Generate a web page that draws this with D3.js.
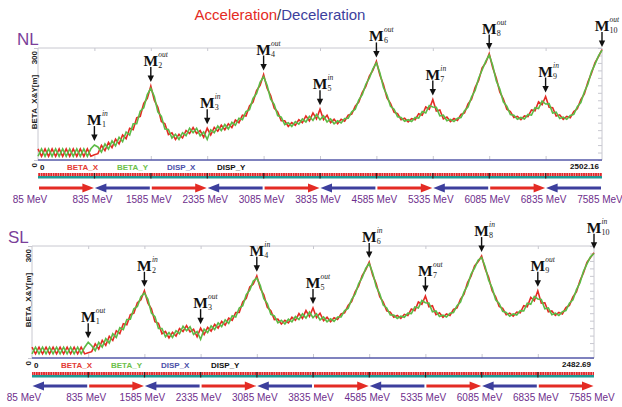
<!DOCTYPE html>
<html>
<head>
<meta charset="utf-8">
<script src="https://cdn.jsdelivr.net/npm/d3@7"></script>
<style>
    body { margin: 0; background: #fff; }
    svg { display: block; font-family: 'Liberation Sans', Arial, sans-serif; }
</style>
</head>
<body>
<div id="chart-area"></div>
<script>
// beta functions, one row per section (M_k to M_k+1), last row = end point
var nlBetaX = [
    [30, 10, 30, 10, 30, 10, 30, 10, 30, 10, 30, 10, 30, 10, 30, 10],
    [14, 17, 39, 25, 47, 33, 56, 43, 67, 57, 85, 81, 113, 117, 152, 165],
    [198, 160, 141, 103, 97, 68, 73, 55, 69, 59, 79, 71, 87, 71, 79, 61],
    [85, 67, 87, 77, 93, 81, 97, 87, 107, 100, 120, 118, 145, 155, 186, 200],
    [229, 192, 173, 139, 129, 105, 105, 90, 100, 93, 108, 100, 118, 105, 126, 110],
    [136, 108, 120, 100, 109, 97, 109, 104, 120, 123, 144, 155, 181, 197, 225, 240],
    [264, 227, 202, 166, 152, 128, 124, 108, 112, 102, 111, 108, 124, 120, 142, 136],
    [162, 131, 134, 110, 115, 103, 111, 106, 122, 126, 150, 163, 194, 213, 247, 260],
    [285, 247, 220, 182, 164, 136, 130, 114, 117, 108, 118, 116, 134, 132, 156, 148],
    [170, 141, 140, 118, 121, 109, 117, 113, 130, 137, 162, 177, 209, 232, 260, 277],
    [296]
];
var nlBetaY = [
    [10, 30, 10, 30, 10, 30, 10, 30, 10, 30, 10, 30, 10, 30, 10, 30],
    [40, 35, 21, 43, 29, 51, 38, 61, 49, 75, 67, 97, 97, 131, 140, 175],
    [192, 170, 129, 117, 83, 82, 59, 69, 55, 73, 65, 85, 73, 85, 65, 75],
    [55, 81, 73, 91, 79, 95, 83, 101, 93, 112, 108, 130, 135, 165, 178, 208],
    [223, 200, 163, 149, 119, 115, 95, 100, 90, 103, 96, 110, 102, 117, 106, 122],
    [108, 118, 102, 110, 97, 105, 99, 111, 112, 129, 136, 161, 175, 203, 219, 244],
    [260, 233, 194, 174, 144, 136, 116, 114, 104, 108, 103, 114, 112, 130, 126, 146],
    [142, 141, 118, 120, 105, 109, 103, 112, 114, 132, 142, 169, 186, 219, 241, 264],
    [281, 253, 212, 190, 156, 144, 122, 120, 109, 114, 110, 122, 120, 140, 138, 158],
    [150, 151, 126, 128, 111, 115, 109, 119, 122, 143, 154, 183, 203, 236, 256, 279],
    [294]
];
var slBetaX = [
    [29, 11, 29, 11, 29, 11, 29, 11, 29, 11, 29, 11, 29, 11, 29, 11],
    [14, 17, 38, 24, 47, 34, 58, 47, 73, 65, 92, 89, 116, 120, 148, 156],
    [180, 147, 132, 97, 93, 65, 71, 54, 69, 59, 79, 71, 87, 70, 77, 57],
    [80, 63, 82, 72, 90, 80, 98, 88, 107, 101, 122, 122, 150, 160, 190, 198],
    [220, 186, 169, 136, 127, 103, 104, 91, 101, 94, 109, 101, 119, 106, 127, 111],
    [134, 108, 120, 100, 109, 97, 108, 103, 118, 121, 141, 151, 177, 193, 221, 236],
    [257, 222, 199, 164, 150, 126, 123, 109, 114, 106, 117, 114, 131, 127, 150, 144],
    [166, 137, 140, 116, 121, 109, 118, 114, 130, 134, 158, 171, 202, 219, 247, 258],
    [273, 239, 216, 180, 164, 138, 133, 116, 120, 112, 123, 121, 140, 137, 162, 153],
    [180, 147, 148, 124, 126, 114, 122, 118, 135, 141, 164, 177, 207, 228, 256, 269],
    [282]
];
var slBetaY = [
    [11, 29, 11, 29, 11, 29, 11, 29, 11, 29, 11, 29, 11, 29, 11, 29],
    [42, 33, 20, 42, 29, 52, 40, 65, 55, 81, 76, 103, 104, 132, 138, 164],
    [174, 157, 120, 111, 79, 79, 57, 68, 55, 73, 65, 85, 73, 84, 63, 71],
    [50, 77, 68, 86, 76, 94, 84, 102, 93, 113, 110, 134, 140, 170, 182, 206],
    [214, 194, 159, 146, 117, 113, 94, 101, 91, 104, 97, 111, 103, 118, 107, 123],
    [108, 118, 102, 110, 97, 105, 98, 110, 110, 127, 133, 157, 171, 199, 215, 240],
    [253, 228, 191, 172, 142, 134, 115, 115, 106, 112, 109, 120, 119, 137, 134, 154],
    [148, 147, 124, 126, 111, 115, 110, 120, 122, 140, 150, 177, 194, 225, 241, 262],
    [269, 245, 208, 188, 156, 146, 125, 122, 112, 118, 115, 127, 126, 147, 144, 165],
    [158, 157, 132, 134, 116, 120, 114, 124, 127, 147, 156, 183, 201, 232, 252, 271],
    [280]
];

var energies = [85, 835, 1585, 2335, 3085, 3835, 4585, 5335, 6085, 6835, 7585];
var nlMarkers = ['in', 'out', 'in', 'out', 'in', 'out', 'in', 'out', 'in', 'out'];
var slMarkers = ['out', 'in', 'out', 'in', 'out', 'in', 'out', 'in', 'out', 'in'];
var nlDirections = ['acc', 'dec', 'acc', 'dec', 'acc', 'dec', 'acc', 'dec', 'acc', 'dec'];
var slDirections = ['dec', 'acc', 'dec', 'acc', 'dec', 'acc', 'dec', 'acc', 'dec', 'acc'];
var legendLabels = ['BETA_X', 'BETA_Y', 'DISP_X', 'DISP_Y'];
var nlLength = 2502.16;
var slLength = 2482.69;
var yTicks = [0, 300];

var colors = {
    red: '#e42b24', green: '#5cbb46', blue: '#3d3f9d', teal: '#1f9a94',
    purple: '#6e2e8c', name: '#7b3f9a', grid: '#c8c8d0'
};
var legendColors = ['#e33b34', '#6cc04a', '#4a4fa8', '#111'];

var width = 622, height = 407;

var svg = d3.select('#chart-area')
    .append('svg')
    .attr('width', width)
    .attr('height', height);

var pattern = svg.append('defs').append('pattern')
    .attr('id', 'hatch')
    .attr('patternUnits', 'userSpaceOnUse')
    .attr('width', 2.4)
    .attr('height', 10);
pattern.append('rect').attr('width', 2.4).attr('height', 10).attr('fill', '#f4b6b4');
pattern.append('rect').attr('width', 1.7).attr('height', 10).attr('fill', '#e2262a');

var title = svg.append('text')
    .attr('x', 280)
    .attr('y', 20)
    .attr('text-anchor', 'middle')
    .style('font-size', '15px');
title.append('tspan').attr('fill', colors.red).text('Acceleration');
title.append('tspan').attr('fill', '#333').text('/');
title.append('tspan').attr('fill', colors.blue).text('Deceleration');

var panels = [
    { name: 'NL', length: nlLength, betaX: nlBetaX, betaY: nlBetaY, markers: nlMarkers, dirs: nlDirections,
      left: 38, right: 602, top: 48, zero: 160, stripY: 173, arrowY: 188, labelY: 203, nameX: 17, nameY: 45 },
    { name: 'SL', length: slLength, betaX: slBetaX, betaY: slBetaY, markers: slMarkers, dirs: slDirections,
      left: 32, right: 594, top: 246, zero: 358, stripY: 372, arrowY: 386, labelY: 401, nameX: 8, nameY: 243 }
];

panels.forEach(drawPanel);

function toPoints(rows, sectionLen) {
    var pts = [];
    rows.forEach(function (row, k) {
        row.forEach(function (v, j) {
            pts.push({ s: (k + j / 16) * sectionLen, v: v });
        });
    });
    return pts;
}

function drawPanel(p) {
    var g = svg.append('g');
    var sectionLen = p.length / 10;
    var bounds = d3.range(11).map(function (i) { return i * sectionLen; });

    var x = d3.scaleLinear().domain([0, p.length]).range([p.left, p.right]);
    var y = d3.scaleLinear().domain([0, 300]).range([p.zero, p.top]);

    g.append('text')
        .attr('x', p.nameX)
        .attr('y', p.nameY)
        .attr('fill', colors.name)
        .style('font-size', '17px')
        .text(p.name);

    // frame
    g.append('line')
        .attr('x1', p.left).attr('x2', p.right)
        .attr('y1', p.top).attr('y2', p.top)
        .attr('stroke', colors.grid);
    g.append('line')
        .attr('x1', p.left).attr('x2', p.left)
        .attr('y1', p.top).attr('y2', p.zero)
        .attr('stroke', colors.grid);
    g.append('line')
        .attr('x1', p.right).attr('x2', p.right)
        .attr('y1', p.top).attr('y2', p.zero)
        .attr('stroke', colors.grid);

    var rightAxis = g.append('g')
        .attr('transform', 'translate(' + p.right + ',0)')
        .call(d3.axisLeft(y).ticks(10).tickSize(4).tickFormat(''));
    var leftAxis = g.append('g')
        .attr('transform', 'translate(' + p.left + ',0)')
        .call(d3.axisLeft(y).tickValues(yTicks).tickSize(4).tickFormat(''));
    var topAxis = g.append('g')
        .attr('transform', 'translate(0,' + p.top + ')')
        .call(d3.axisTop(x).tickValues(bounds.slice(1, 10)).tickSize(-3).tickFormat(''));
    var bottomAxis = g.append('g')
        .attr('transform', 'translate(0,' + p.zero + ')')
        .call(d3.axisBottom(x).tickValues(bounds.slice(1, 10)).tickSize(-4).tickFormat(''));
    [rightAxis, leftAxis, topAxis, bottomAxis].forEach(function (a) {
        a.select('.domain').remove();
        a.selectAll('line').attr('stroke', colors.grid);
    });

    yTicks.forEach(function (t) {
        g.append('text')
            .attr('transform', 'translate(' + (p.left - 1) + ',' + (y(t) + 3) + ') rotate(-90)')
            .attr('text-anchor', 'end')
            .style('font-size', '8px')
            .style('font-weight', 'bold')
            .attr('fill', '#222')
            .text(t);
    });
    g.append('text')
        .attr('transform', 'translate(' + (p.left - 1) + ',' + ((p.top + p.zero) / 2 - 2) + ') rotate(-90)')
        .attr('text-anchor', 'middle')
        .style('font-size', '8px')
        .style('font-weight', 'bold')
        .attr('fill', '#222')
        .text('BETA_X&Y[m]');

    // dispersion line along zero
    g.append('line')
        .attr('x1', p.left).attr('x2', p.right)
        .attr('y1', y(0)).attr('y2', y(0))
        .attr('stroke', '#5558a8')
        .attr('stroke-width', 1.5);

    var line = d3.line()
        .x(function (d) { return x(d.s); })
        .y(function (d) { return y(d.v); });

    g.append('path')
        .datum(toPoints(p.betaX, sectionLen))
        .attr('d', line)
        .attr('fill', 'none')
        .attr('stroke', colors.red)
        .attr('stroke-width', 1.6);
    g.append('path')
        .datum(toPoints(p.betaY, sectionLen))
        .attr('d', line)
        .attr('fill', 'none')
        .attr('stroke', colors.green)
        .attr('stroke-width', 1.6);

    // M markers
    p.markers.forEach(function (kind, i) {
        var k = i + 1;
        var mx = x(bounds[k]);
        var peak = Math.max(p.betaX[k][0], p.betaY[k][0]);
        var tip = Math.max(y(peak) - 4, p.top - 1);
        g.append('line')
            .attr('x1', mx).attr('x2', mx)
            .attr('y1', tip - 15).attr('y2', tip - 5)
            .attr('stroke', '#111')
            .attr('stroke-width', 1.4);
        g.append('path')
            .attr('d', 'M' + (mx - 3.2) + ',' + (tip - 6.5) + 'L' + (mx + 3.2) + ',' + (tip - 6.5) + 'L' + mx + ',' + tip + 'Z')
            .attr('fill', '#111');
        g.append('text')
            .attr('x', mx)
            .attr('y', tip - 16)
            .attr('text-anchor', 'middle')
            .style('font-family', "'Liberation Serif', 'Times New Roman', serif")
            .style('font-weight', 'bold')
            .style('font-size', '15.5px')
            .attr('fill', '#111')
            .text('M');
        g.append('text')
            .attr('x', mx + 7.5)
            .attr('y', tip - 14)
            .style('font-family', "'Liberation Serif', 'Times New Roman', serif")
            .style('font-size', '8px')
            .attr('fill', '#222')
            .text(k);
        g.append('text')
            .attr('x', mx + 7.5)
            .attr('y', tip - 25)
            .style('font-family', "'Liberation Serif', 'Times New Roman', serif")
            .style('font-style', 'italic')
            .style('font-size', '7.5px')
            .attr('fill', '#222')
            .text(kind);
    });

    // legend row under the plot
    g.append('text')
        .attr('x', p.left + 2)
        .attr('y', p.zero + 9.5)
        .style('font-size', '8px')
        .style('font-weight', 'bold')
        .attr('fill', '#111')
        .text('0');
    legendLabels.forEach(function (lab, i) {
        g.append('text')
            .attr('x', p.left + 29 + i * 50)
            .attr('y', p.zero + 9.5)
            .style('font-size', '8px')
            .style('font-weight', 'bold')
            .attr('fill', legendColors[i])
            .text(lab);
    });
    g.append('text')
        .attr('x', p.right - 3)
        .attr('y', p.zero + 9)
        .attr('text-anchor', 'end')
        .style('font-size', '8px')
        .style('font-weight', 'bold')
        .attr('fill', '#111')
        .text(p.length.toFixed(2));

    // lattice strip
    g.append('rect')
        .attr('x', p.left).attr('y', p.stripY)
        .attr('width', p.right - p.left).attr('height', 5.5)
        .attr('fill', colors.teal);
    g.append('rect')
        .attr('x', p.left).attr('y', p.stripY)
        .attr('width', p.right - p.left).attr('height', 3)
        .attr('fill', 'url(#hatch)');
    g.selectAll('.sep')
        .data(bounds.slice(1, 10))
        .enter()
        .append('rect')
        .attr('x', function (d) { return x(d) - 0.5; })
        .attr('y', p.stripY)
        .attr('width', 1.2)
        .attr('height', 5.5)
        .attr('fill', '#3a1a1a');

    // acceleration / deceleration arrows
    p.dirs.forEach(function (dir, i) {
        var x0 = x(bounds[i]), x1 = x(bounds[i + 1]);
        var ay = p.arrowY;
        var col = dir === 'acc' ? colors.red : colors.blue;
        var head = 11, half = 4.5;
        var d;
        if (dir === 'acc') {
            g.append('line')
                .attr('x1', x0 + 1).attr('x2', x1 - head)
                .attr('y1', ay).attr('y2', ay)
                .attr('stroke', col).attr('stroke-width', 3);
            d = 'M' + (x1 - head - 1) + ',' + (ay - half) + 'L' + (x1 - 0.5) + ',' + ay + 'L' + (x1 - head - 1) + ',' + (ay + half) + 'Z';
        } else {
            g.append('line')
                .attr('x1', x0 + head).attr('x2', x1 - 1)
                .attr('y1', ay).attr('y2', ay)
                .attr('stroke', col).attr('stroke-width', 3);
            d = 'M' + (x0 + head + 1) + ',' + (ay - half) + 'L' + (x0 + 0.5) + ',' + ay + 'L' + (x0 + head + 1) + ',' + (ay + half) + 'Z';
        }
        g.append('path').attr('d', d).attr('fill', col);
    });

    g.selectAll('.energy')
        .data(energies)
        .enter()
        .append('text')
        .attr('x', function (d, i) { return x(bounds[i]) - (i === 0 ? 8 : 2); })
        .attr('y', p.labelY)
        .attr('text-anchor', 'middle')
        .style('font-size', '10px')
        .attr('fill', colors.purple)
        .text(function (d) { return d + ' MeV'; });
}
</script>
</body>
</html>
